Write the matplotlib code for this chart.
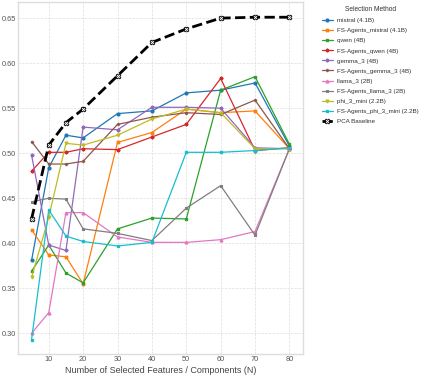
import matplotlib
matplotlib.use("Agg")
import matplotlib.pyplot as plt
import numpy as np

plt.style.use("seaborn-v0_8-whitegrid")
plt.rcParams['font.family'] = ['Liberation Sans', 'DejaVu Sans']

N = [5, 10, 15, 20, 30, 40, 50, 60, 70, 80]

series_names = [
    "mistral (4.1B)", "FS-Agents_mistral (4.1B)", "qwen (4B)", "FS-Agents_qwen (4B)",
    "gemma_3 (4B)", "FS-Agents_gemma_3 (4B)", "llama_3 (2B)", "FS-Agents_llama_3 (2B)",
    "phi_3_mini (2.2B)", "FS-Agents_phi_3_mini (2.2B)",
]

mistral = [0.381, 0.484, 0.520, 0.517, 0.544, 0.547, 0.567, 0.570, 0.578, 0.508]
fs_mistral = [0.415, 0.387, 0.385, 0.355, 0.512, 0.523, 0.549, 0.545, 0.547, 0.505]
qwen = [0.369, 0.398, 0.367, 0.356, 0.416, 0.428, 0.427, 0.570, 0.585, 0.510]
fs_qwen = [0.480, 0.501, 0.501, 0.505, 0.504, 0.518, 0.532, 0.583, 0.503, 0.506]
gemma = [0.498, 0.398, 0.392, 0.529, 0.526, 0.551, 0.551, 0.550, 0.506, 0.505]
fs_gemma = [0.513, 0.488, 0.488, 0.491, 0.532, 0.540, 0.545, 0.543, 0.559, 0.505]
llama = [0.300, 0.323, 0.434, 0.434, 0.407, 0.401, 0.401, 0.404, 0.413, 0.505]
fs_llama = [0.446, 0.450, 0.449, 0.416, 0.411, 0.403, 0.439, 0.464, 0.409, 0.505]
phi = [0.362, 0.429, 0.511, 0.509, 0.520, 0.538, 0.549, 0.545, 0.505, 0.505]
fs_phi = [0.293, 0.437, 0.408, 0.402, 0.397, 0.401, 0.501, 0.501, 0.503, 0.506]
pca = [0.427, 0.509, 0.534, 0.549, 0.586, 0.623, 0.638, 0.650, 0.651, 0.651]

series_values = [mistral, fs_mistral, qwen, fs_qwen, gemma, fs_gemma, llama, fs_llama, phi, fs_phi]

colors = ["#1f77b4", "#ff7f0e", "#2ca02c", "#d62728", "#9467bd",
          "#8c564b", "#e377c2", "#7f7f7f", "#bcbd22", "#17becf"]
markers = ["o", "X", "s", "P", "P", (4, 1, 0), "^", (4, 1, 45), "v", (4, 0, 45)]

fig = plt.figure(figsize=(4.24, 3.84), dpi=100)
ax = fig.add_axes([0.042, 0.078, 0.673, 0.917])

for name, vals, c, m in zip(series_names, series_values, colors, markers):
    ax.plot(N, vals, color=c, marker=m, markersize=2.0, linewidth=0.9, label=name)

ax.plot(N, pca, color="black", linestyle="--", linewidth=2.0, marker="X",
        markersize=3.5, markerfacecolor="white", markeredgecolor="black",
        markeredgewidth=0.6, label="PCA Baseline")

ax.set_xlim(1, 84)
ax.set_ylim(0.277, 0.668)
ax.set_xticks([10, 20, 30, 40, 50, 60, 70, 80])
ax.set_yticks([0.30, 0.35, 0.40, 0.45, 0.50, 0.55, 0.60, 0.65])
ax.set_yticklabels(["0.30", "0.35", "0.40", "0.45", "0.50", "0.55", "0.60", "0.65"])
ax.tick_params(labelsize=5.3, colors="#555555", pad=1.5)
ax.grid(True, linestyle="--", linewidth=0.5, color="#dddddd")
for s in ax.spines.values():
    s.set_visible(True)
    s.set_color("#dddddd")
    s.set_linewidth(1.0)
ax.set_xlabel("Number of Selected Features / Components (N)", fontsize=6.5, color="#444444", labelpad=2)

leg = ax.legend(title="Selection Method", loc="upper left", bbox_to_anchor=(1.05, 1.0),
                fontsize=4.5, title_fontsize=4.8, frameon=False, handlelength=1.8,
                handletextpad=0.6, labelspacing=0.75, borderaxespad=0.3)
for t in leg.get_texts():
    t.set_color("#333333")
leg.get_title().set_color("#333333")

fig.savefig("out.png", dpi=100)
